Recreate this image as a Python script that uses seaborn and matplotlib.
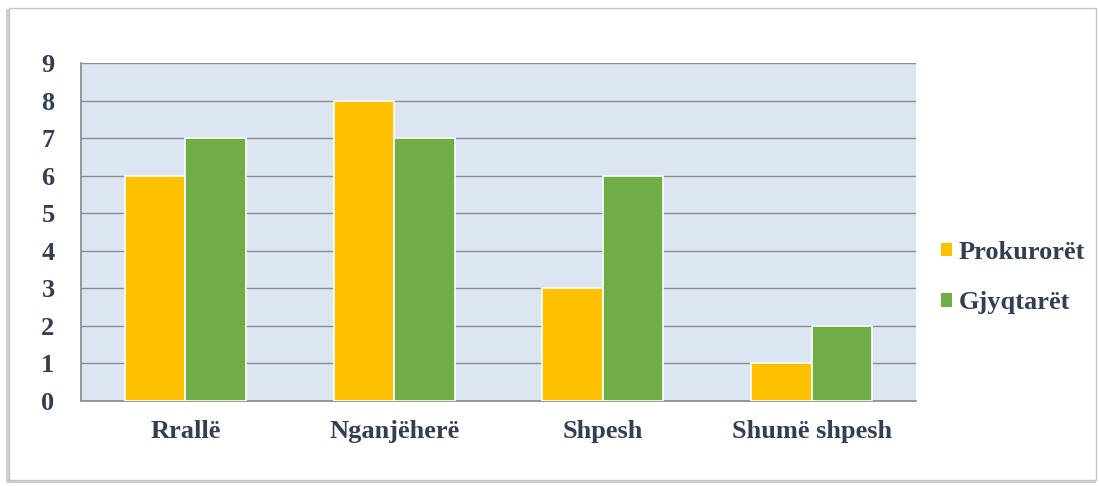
import matplotlib
matplotlib.use("Agg")
import matplotlib.pyplot as plt
import matplotlib.patches as mpatches
import seaborn as sns
import pandas as pd

categories = ["Rrallë", "Nganjëherë", "Shpesh", "Shumë shpesh"]
series_names = ["Prokurorët", "Gjyqtarët"]
prokuroret = [6, 8, 3, 1]
gjyqtaret = [7, 7, 6, 2]
y_ticks = list(range(0, 10))

colors = ["#FFC000", "#70AD47"]
text_color = "#333F50"

rows = []
for c, v in zip(categories, prokuroret):
    rows.append({"cat": c, "series": series_names[0], "val": v})
for c, v in zip(categories, gjyqtaret):
    rows.append({"cat": c, "series": series_names[1], "val": v})
df = pd.DataFrame(rows)

sns.set_theme(style="white")
plt.rcParams["font.family"] = ["Liberation Serif", "DejaVu Serif"]

fig = plt.figure(figsize=(10.99, 4.86), dpi=100)
fig.patch.set_facecolor("white")

# outer frame with shadow
W, H = 1099, 486
shadow = mpatches.Rectangle((6 / W, 3 / H), (1090 / W), (474 / H), transform=fig.transFigure,
                            facecolor="#CFCFCF", edgecolor="none", zorder=-2)
frame = mpatches.Rectangle((9 / W, 6 / H), (1087 / W), (472 / H), transform=fig.transFigure,
                           facecolor="white", edgecolor="#C4C4C4", linewidth=1.0, zorder=-1)
fig.patches.extend([shadow, frame])

ax = fig.add_axes([81 / W, 1 - 401 / H, 835 / W, 338 / H])
ax.set_facecolor("#DCE6F2")

sns.barplot(data=df, x="cat", y="val", hue="series", palette=colors, width=0.58,
            saturation=1, edgecolor="white", linewidth=1.2, ax=ax, order=categories,
            hue_order=series_names, zorder=3)

ax.set_ylim(0, 9)
ax.set_yticks(y_ticks)
ax.yaxis.grid(True, color="#8C8C8C", linewidth=1, zorder=0)
ax.set_axisbelow(True)
ax.set_xlabel("")
ax.set_ylabel("")
for s in ["top", "right"]:
    ax.spines[s].set_visible(False)
ax.spines["left"].set_color("#8C8C8C")
ax.spines["bottom"].set_color("#8C8C8C")
ax.tick_params(axis="both", length=0, labelsize=19, colors=text_color)
ax.tick_params(axis="y", pad=19)
ax.tick_params(axis="x", pad=14)
for lbl in ax.get_xticklabels() + ax.get_yticklabels():
    lbl.set_fontweight("bold")
    lbl.set_color(text_color)

handles = [mpatches.Patch(facecolor=c, edgecolor="none") for c in colors]
leg = ax.legend(handles, series_names, loc="center left", bbox_to_anchor=(1.008, 0.365),
                frameon=False, handlelength=0.42, handleheight=0.42, handletextpad=0.25,
                labelspacing=1.05, borderaxespad=0.3, prop={"weight": "bold", "size": 19})
for t in leg.get_texts():
    t.set_color(text_color)

fig.savefig("out.png", dpi=100)
